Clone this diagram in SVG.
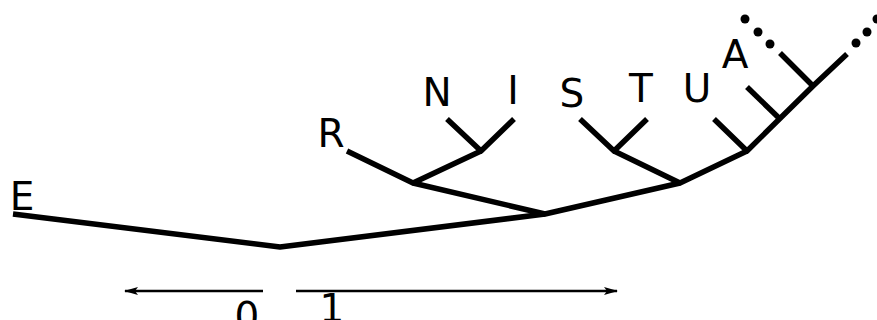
<svg xmlns="http://www.w3.org/2000/svg" width="877" height="320" viewBox="0 0 877 320">
<defs>
<style>
.lbl{font-family:"DejaVu Sans",sans-serif;font-size:39px;fill:#000;text-anchor:middle}
.edge{stroke:#000;stroke-width:5.5;fill:none;stroke-linejoin:round}
.scale{stroke:#000;stroke-width:2.5;fill:none}
.dot{fill:#000}
</style>
<marker id="ah" viewBox="0 0 14 10" refX="13" refY="5" markerWidth="14" markerHeight="10" markerUnits="userSpaceOnUse" orient="auto">
<path d="M0,1 L14,5 L0,9 L3,5 Z" fill="#000"/>
</marker>
</defs>
<rect width="877" height="320" fill="#fff"/>
<g id="connectors">
<polyline class="edge" points="13,214 280,247 545,214"/>
<polyline class="edge" points="413,183 545,214 680,183"/>
<polyline class="edge" points="347,151 413,183 481,151"/>
<polyline class="edge" points="447,119 481,151 514,119"/>
<polyline class="edge" points="614,151 680,183 747,151"/>
<polyline class="edge" points="580,119 614,151 647,119"/>
<polyline class="edge" points="714,119 747,151 813,86 847,54"/>
<line class="edge" x1="747" y1="87" x2="780" y2="119"/>
<line class="edge" x1="780" y1="53" x2="813" y2="86"/>
<circle class="dot" cx="770" cy="44" r="4.5"/>
<circle class="dot" cx="758" cy="32" r="4.5"/>
<circle class="dot" cx="745" cy="19" r="4.5"/>
<circle class="dot" cx="856" cy="43" r="4.5"/>
<circle class="dot" cx="867" cy="32" r="4.5"/>
<circle class="dot" cx="877" cy="19" r="4.5"/>
</g>
<g id="node-E"><text class="lbl" x="22" y="210">E</text></g>
<g id="node-R"><text class="lbl" x="331" y="147">R</text></g>
<g id="node-N"><text class="lbl" x="437" y="106">N</text></g>
<g id="node-I"><text class="lbl" x="513" y="104">I</text></g>
<g id="node-S"><text class="lbl" x="572" y="107">S</text></g>
<g id="node-T"><text class="lbl" x="641" y="102">T</text></g>
<g id="node-U"><text class="lbl" x="697" y="102">U</text></g>
<g id="node-A"><text class="lbl" x="735" y="68">A</text></g>
<g id="scale">
<line class="scale" x1="263" y1="291" x2="125" y2="291" marker-end="url(#ah)"/>
<line class="scale" x1="296" y1="291" x2="617" y2="291" marker-end="url(#ah)"/>
<text class="lbl" x="247" y="330">0</text>
<text class="lbl" x="332" y="322">1</text>
</g>
</svg>
